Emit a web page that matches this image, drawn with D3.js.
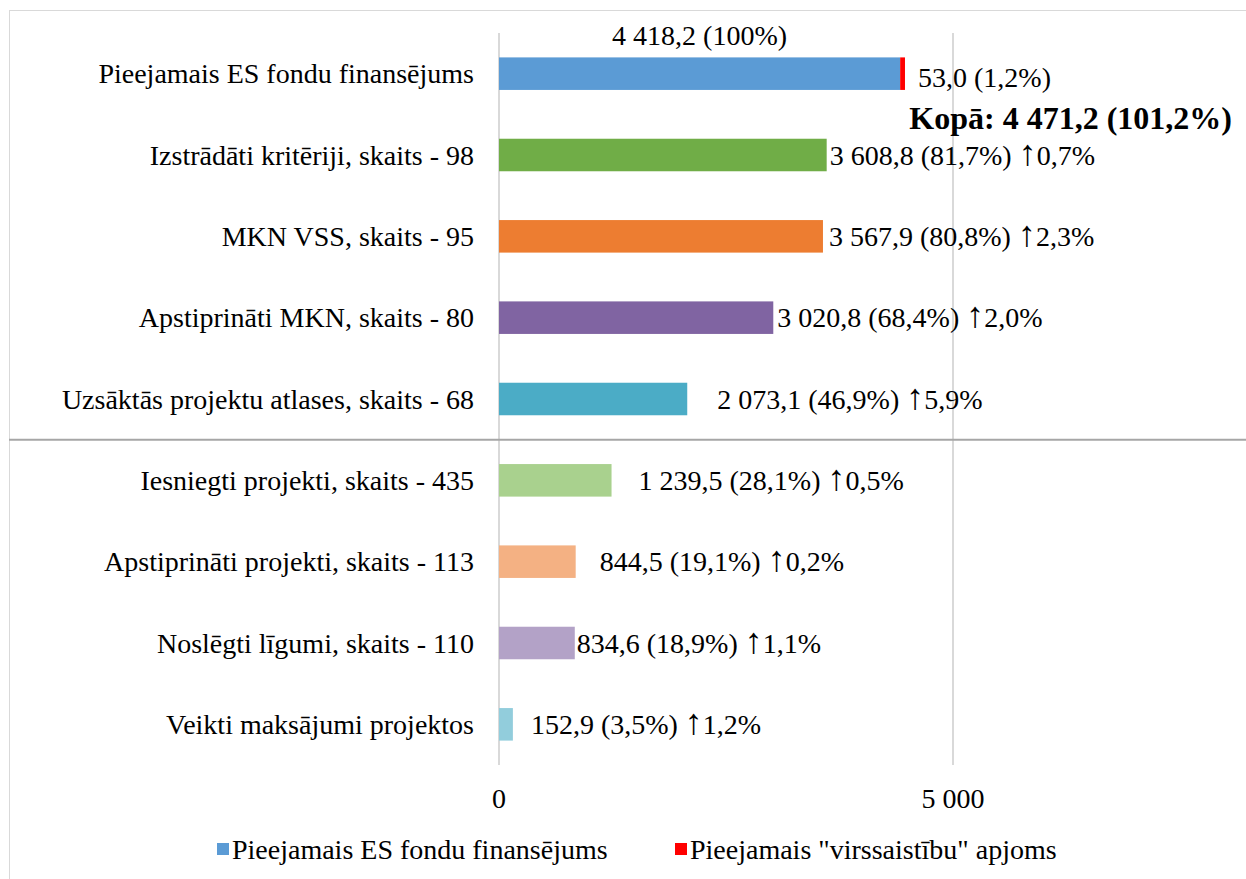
<!DOCTYPE html>
<html>
<head>
<meta charset="utf-8">
<script src="https://cdn.jsdelivr.net/npm/d3@7"></script>
<style>
body { margin: 0; background: #fff; }
svg text { font-family: "Liberation Serif", "Times New Roman", serif; fill: #000; }
</style>
</head>
<body>
<div></div>
<script>
// data
var categories = [
	"Pieejamais ES fondu finansējums",
	"Izstrādāti kritēriji, skaits - 98",
	"MKN VSS, skaits - 95",
	"Apstiprināti MKN, skaits - 80",
	"Uzsāktās projektu atlases, skaits - 68",
	"Iesniegti projekti, skaits - 435",
	"Apstiprināti projekti, skaits - 113",
	"Noslēgti līgumi, skaits - 110",
	"Veikti maksājumi projektos"
];
var values = [4418.2, 3608.8, 3567.9, 3020.8, 2073.1, 1239.5, 844.5, 834.6, 152.9];
var overValues = [53.0, 0, 0, 0, 0, 0, 0, 0, 0];
var valueLabels = [
	"4 418,2 (100%)",
	"3 608,8 (81,7%)",
	"3 567,9 (80,8%)",
	"3 020,8 (68,4%)",
	"2 073,1 (46,9%)",
	"1 239,5 (28,1%)",
	"844,5 (19,1%)",
	"834,6 (18,9%)",
	"152,9 (3,5%)"
];
var changeLabels = ["", "0,7%", "2,3%", "2,0%", "5,9%", "0,5%", "0,2%", "1,1%", "1,2%"];
var overLabel = "53,0 (1,2%)";
var totalLabel = "Kopā: 4 471,2 (101,2%)";
var xTicks = [0, 5000];
var seriesNames = ["Pieejamais ES fondu finansējums", "Pieejamais \"virssaistību\" apjoms"];

var barColors = ["#5b9bd5", "#70ad47", "#ed7d31", "#8064a2", "#4bacc6", "#a9d18e", "#f4b183", "#b3a2c7", "#92cddc"];
var overColor = "#ff0000";
// label gaps after bar end (manually placed labels in the original)
var labelGap = [0, 3, 6, 4, 30, 27, 24, 2, 18];

var W = 1246, H = 879;
var fs = 28;

var svg = d3.select("body").select("div").append("svg")
	.attr("width", W)
	.attr("height", H);

// outer frame
svg.append("rect")
	.attr("x", 9.5).attr("y", 10.5)
	.attr("width", W).attr("height", H)
	.style("fill", "none")
	.attr("stroke", "#d9d9d9")
	.attr("stroke-width", 1);

var x = d3.scaleLinear().domain([0, 5000]).range([499, 953]);
var y = d3.scaleBand().domain(categories).range([33, 765]).paddingInner(0.6).paddingOuter(0.3);

// gridlines
svg.append("g").selectAll("line")
	.data(xTicks)
	.enter().append("line")
	.attr("x1", function(d) { return x(d); })
	.attr("x2", function(d) { return x(d); })
	.attr("y1", 33).attr("y2", 765)
	.attr("stroke", "#d9d9d9")
	.attr("stroke-width", 2);

// divider line between groups
var divY = (y(categories[4]) + y.bandwidth() + y(categories[5])) / 2;
svg.append("line")
	.attr("x1", 9).attr("x2", W)
	.attr("y1", divY).attr("y2", divY)
	.attr("stroke", "#a6a6a6")
	.attr("stroke-width", 2);

// bars
var rows = categories.map(function(c, i) {
	return { cat: c, v: values[i], over: overValues[i], lab: valueLabels[i], chg: changeLabels[i], col: barColors[i], gap: labelGap[i] };
});

svg.append("g").selectAll("rect")
	.data(rows)
	.enter().append("rect")
	.attr("x", x(0))
	.attr("y", function(d) { return y(d.cat); })
	.attr("width", function(d) { return x(d.v) - x(0); })
	.attr("height", y.bandwidth())
	.style("fill", function(d) { return d.col; });

svg.append("g").selectAll("rect")
	.data(rows.filter(function(d) { return d.over > 0; }))
	.enter().append("rect")
	.attr("x", function(d) { return x(d.v); })
	.attr("y", function(d) { return y(d.cat); })
	.attr("width", function(d) { return x(d.v + d.over) - x(d.v); })
	.attr("height", y.bandwidth())
	.style("fill", overColor);

// category labels
svg.append("g").selectAll("text")
	.data(rows)
	.enter().append("text")
	.attr("x", 474)
	.attr("y", function(d) { return y(d.cat) + y.bandwidth() / 2; })
	.attr("dy", "0.35em")
	.attr("text-anchor", "end")
	.style("font-size", fs + "px")
	.text(function(d) { return d.cat; });

// value labels with change arrow
var vl = svg.append("g").selectAll("text")
	.data(rows.slice(1))
	.enter().append("text")
	.attr("x", function(d) { return x(d.v) + d.gap; })
	.attr("y", function(d) { return y(d.cat) + y.bandwidth() / 2 + fs * 0.35; })
	.style("font-size", fs + "px");
vl.append("tspan").text(function(d) { return d.lab + " "; });
vl.append("tspan").style("font-size", "36px").text("↑");
vl.append("tspan").text(function(d) { return d.chg; });

var first = rows[0];
svg.append("text")
	.attr("x", (x(0) + x(first.v)) / 2)
	.attr("y", y(first.cat) - 12)
	.attr("text-anchor", "middle")
	.style("font-size", fs + "px")
	.text(first.lab);

svg.append("text")
	.attr("x", x(first.v + first.over) + 13)
	.attr("y", y(first.cat) + y.bandwidth() / 2 + 13)
	.style("font-size", fs + "px")
	.text(overLabel);

svg.append("text")
	.attr("x", 1232)
	.attr("y", 129)
	.attr("text-anchor", "end")
	.style("font-size", "32px")
	.style("font-weight", "bold")
	.text(totalLabel);

// x axis tick labels
svg.append("g").selectAll("text")
	.data(xTicks)
	.enter().append("text")
	.attr("x", function(d) { return x(d); })
	.attr("y", 808)
	.attr("text-anchor", "middle")
	.style("font-size", fs + "px")
	.text(function(d) { return d3.format(",")(d).replace(/,/g, " "); });

// legend
var legendX = [217, 675];
var lg = svg.append("g").selectAll("g")
	.data(seriesNames)
	.enter().append("g")
	.attr("transform", function(d, i) { return "translate(" + legendX[i] + ",849)"; });
lg.append("rect")
	.attr("x", 0).attr("y", -6)
	.attr("width", 12).attr("height", 12)
	.style("fill", function(d, i) { return i === 0 ? barColors[0] : overColor; });
lg.append("text")
	.attr("x", 15)
	.attr("dy", "0.35em")
	.style("font-size", fs + "px")
	.text(function(d) { return d; });
</script>
</body>
</html>
